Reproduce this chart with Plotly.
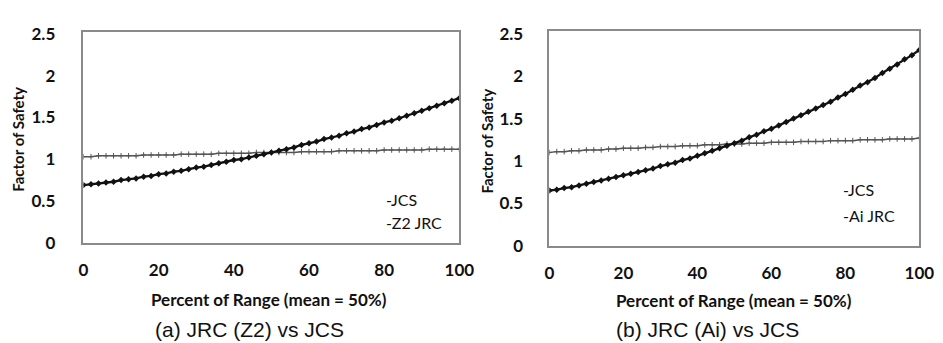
import plotly.graph_objects as go

W, H = 943, 343

percent = [0, 2, 4, 6, 8, 10, 12, 14, 16, 18, 20, 22, 24, 26, 28, 30, 32, 34, 36, 38, 40,
           42, 44, 46, 48, 50, 52, 54, 56, 58, 60, 62, 64, 66, 68, 70, 72, 74, 76, 78, 80,
           82, 84, 86, 88, 90, 92, 94, 96, 98, 100]

jcs_a = [1.03, 1.03, 1.04, 1.04, 1.04, 1.04, 1.04, 1.04, 1.05, 1.05, 1.05,
         1.05, 1.05, 1.06, 1.06, 1.06, 1.06, 1.06, 1.07, 1.07, 1.07,
         1.07, 1.07, 1.08, 1.08, 1.08, 1.08, 1.08, 1.08, 1.09, 1.09,
         1.09, 1.09, 1.09, 1.10, 1.10, 1.10, 1.10, 1.10, 1.10, 1.11,
         1.11, 1.11, 1.11, 1.11, 1.11, 1.12, 1.12, 1.12, 1.12, 1.12]

z2_jrc = [0.69, 0.70, 0.71, 0.72, 0.73, 0.75, 0.76, 0.77, 0.79, 0.80, 0.82,
          0.83, 0.85, 0.86, 0.88, 0.90, 0.91, 0.93, 0.95, 0.97, 0.99,
          1.00, 1.02, 1.04, 1.06, 1.08, 1.10, 1.12, 1.14, 1.17, 1.19,
          1.21, 1.24, 1.26, 1.28, 1.31, 1.33, 1.36, 1.38, 1.41, 1.44,
          1.46, 1.49, 1.52, 1.55, 1.58, 1.61, 1.64, 1.67, 1.70, 1.73]

jcs_b = [1.10, 1.11, 1.11, 1.12, 1.12, 1.13, 1.13, 1.13, 1.14, 1.14, 1.15,
         1.15, 1.15, 1.16, 1.16, 1.17, 1.17, 1.17, 1.18, 1.18, 1.18,
         1.19, 1.19, 1.19, 1.20, 1.20, 1.20, 1.21, 1.21, 1.21, 1.22,
         1.22, 1.22, 1.22, 1.23, 1.23, 1.23, 1.23, 1.24, 1.24, 1.24,
         1.24, 1.25, 1.25, 1.25, 1.25, 1.26, 1.26, 1.26, 1.26, 1.27]

ai_jrc = [0.65, 0.66, 0.68, 0.69, 0.71, 0.73, 0.75, 0.77, 0.79, 0.81, 0.83,
          0.85, 0.87, 0.89, 0.91, 0.94, 0.96, 0.98, 1.01, 1.03, 1.06,
          1.09, 1.12, 1.15, 1.18, 1.21, 1.24, 1.28, 1.31, 1.35, 1.38,
          1.42, 1.46, 1.50, 1.54, 1.58, 1.62, 1.66, 1.70, 1.75, 1.79,
          1.84, 1.89, 1.93, 1.98, 2.04, 2.09, 2.14, 2.20, 2.25, 2.31]

y_ticks = [0, 0.5, 1, 1.5, 2, 2.5]
y_tick_labels = ["0", "0.5", "1", "1.5", "2", "2.5"]
x_ticks = [0, 20, 40, 60, 80, 100]
x_tick_labels = ["0", "20", "40", "60", "80", "100"]

series_a = [("JCS", jcs_a), ("Z2 JRC", z2_jrc)]
series_b = [("JCS", jcs_b), ("Ai JRC", ai_jrc)]
captions = ["(a) JRC (Z2) vs JCS", "(b) JRC (Ai) vs JCS"]
x_title = "Percent of Range (mean = 50%)"
y_title = "Factor of Safety"


def px(x):
    return x / W


def py(y):
    return 1 - y / H


fig = go.Figure()

styles = [
    dict(line=dict(color="#555555", width=1.5),
         marker=dict(symbol="cross-thin", size=4, color="#555555", line=dict(width=1, color="#555555"))),
    dict(line=dict(color="#111111", width=2.3),
         marker=dict(symbol="diamond", size=5, color="#111111")),
]

for i, (series, ax) in enumerate([(series_a, ""), (series_b, "2")]):
    for j, (name, vals) in enumerate(series):
        fig.add_trace(go.Scatter(
            x=percent, y=vals, mode="lines+markers", name=name,
            xaxis="x" + ax, yaxis="y" + ax, showlegend=False,
            line=styles[j]["line"], marker=styles[j]["marker"],
        ))

tickfont = dict(family="Lato", size=17, color="#111111", weight="bold")
axis_common = dict(showgrid=False, zeroline=False, showline=True, linecolor="#8a8a8a",
                   linewidth=1.6, mirror=True, ticks="", tickfont=tickfont)

fig.update_layout(
    width=W, height=H,
    margin=dict(l=0, r=0, t=0, b=0),
    paper_bgcolor="white", plot_bgcolor="white",
    xaxis=dict(domain=[px(72), px(456)], range=[0, 100], anchor="y",
               tickvals=x_ticks, ticktext=x_tick_labels, ticklabelstandoff=11, **axis_common),
    yaxis=dict(domain=[py(239), py(16)], range=[0, 2.52], anchor="x",
               tickvals=y_ticks, ticktext=y_tick_labels, ticklabelstandoff=23, **axis_common),
    xaxis2=dict(domain=[px(548), px(926)], range=[0, 100], anchor="y2",
                tickvals=x_ticks, ticktext=x_tick_labels, ticklabelstandoff=11, **axis_common),
    yaxis2=dict(domain=[py(242), py(15)], range=[0, 2.533], anchor="x2",
                tickvals=y_ticks, ticktext=y_tick_labels, ticklabelstandoff=21, **axis_common),
)

ann = []
# axis titles
for cx, cy in [(262, 299), (737, 300)]:
    ann.append(dict(x=px(cx), y=py(cy), xref="paper", yref="paper", text="<b>" + x_title + "</b>",
                    showarrow=False, font=dict(family="Lato", size=17, color="#111111"),
                    xanchor="center", yanchor="middle"))
for cx, cy in [(5, 129), (484, 131)]:
    ann.append(dict(x=px(cx), y=py(cy), xref="paper", yref="paper", text="<b>" + y_title + "</b>",
                    showarrow=False, textangle=-90, font=dict(family="Lato", size=15, color="#111111"),
                    xanchor="center", yanchor="middle"))
# captions
for (cx, cy), cap in zip([(242, 331), (710, 331)], captions):
    ann.append(dict(x=px(cx), y=py(cy), xref="paper", yref="paper", text=cap,
                    showarrow=False, font=dict(family="Liberation Sans", size=21, color="#111111"),
                    xanchor="center", yanchor="middle"))
# legends
legend_pos = [[(379, 193), (379, 218)], [(846, 183), (846, 210)]]
for series, poss in zip([series_a, series_b], legend_pos):
    for (name, _), (lx, ly) in zip(series, poss):
        ann.append(dict(x=px(lx), y=py(ly), xref="paper", yref="paper", text="-" + name,
                        showarrow=False, font=dict(family="Lato", size=16, color="#111111"),
                        xanchor="left", yanchor="middle"))

fig.update_layout(annotations=ann)

fig.write_html("out.html")
